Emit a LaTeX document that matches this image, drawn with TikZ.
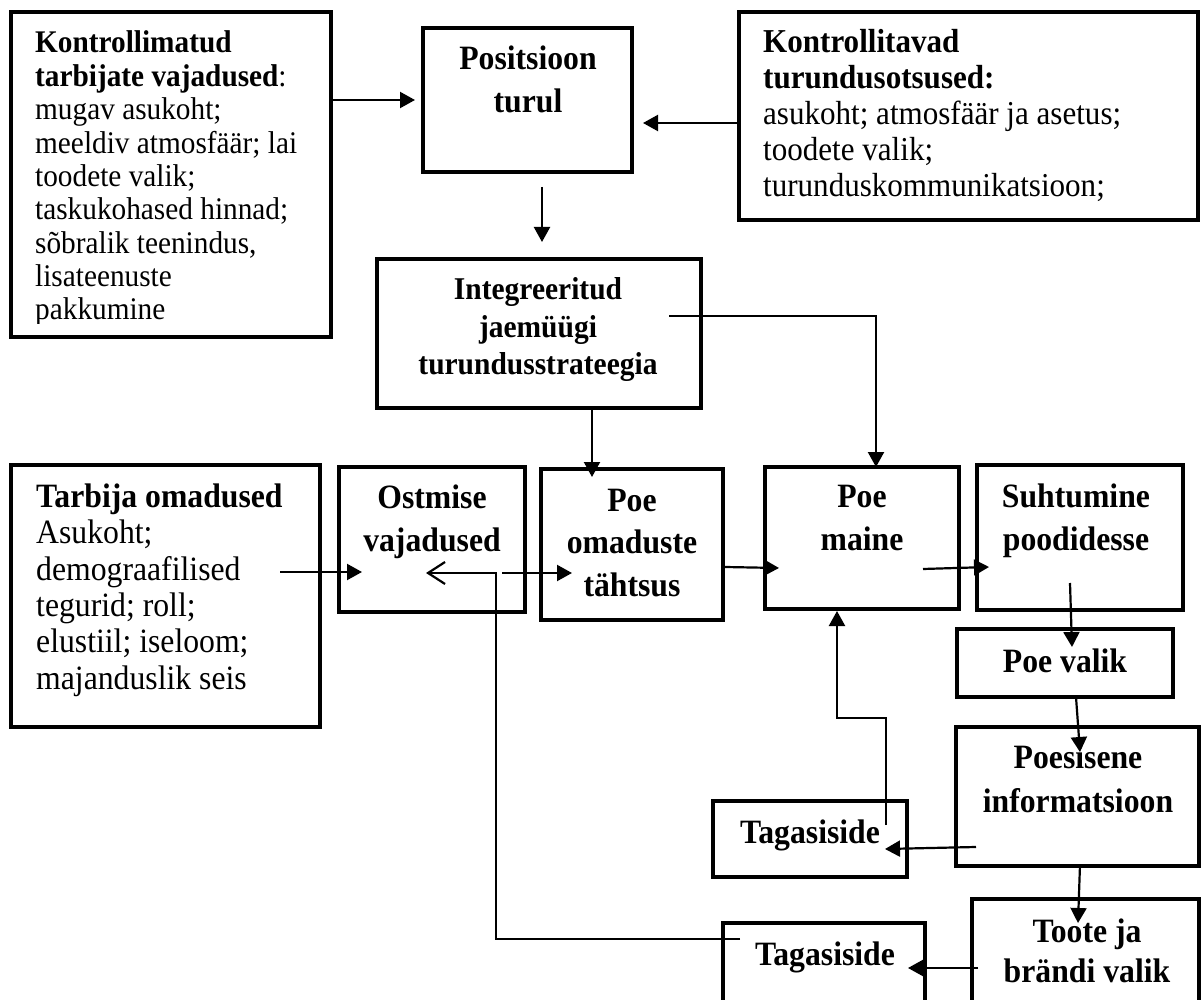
\documentclass[tikz,border=0pt]{standalone}
\usepackage{fontspec}
\setmainfont{Liberation Serif}[FakeStretch=0.93]
\usetikzlibrary{arrows.meta}
\begin{document}
\begin{tikzpicture}[x=1pt,y=-1pt,
  frame/.style={draw,line width=4.8pt,inner sep=0pt,outer sep=0pt},
  conn/.style={line width=2.2pt,-{Triangle[length=15pt,width=16pt]}},
  openconn/.style={line width=2.2pt,-{Straight Barb[length=17pt,width=22pt]}},
  ttl/.style={font=\bfseries\fontsize{34.1pt}{43pt}\selectfont,align=center,anchor=base,inner sep=0pt},
  lst/.style={align=left,anchor=base west,inner sep=0pt}]
\clip (0,0) rectangle (1203,1000);
\fill[white] (0,0) rectangle (1203,1000);
% frames
\node[frame,minimum width=320pt,minimum height=325pt] (K1) at (171,174.5) {};
\node[frame,minimum width=209pt,minimum height=144pt] (P) at (527.5,100) {};
\node[frame,minimum width=459pt,minimum height=208pt] (K2) at (968.5,116) {};
\node[frame,minimum width=324pt,minimum height=149pt] (I) at (539,333.5) {};
\node[frame,minimum width=309pt,minimum height=262pt] (T) at (165.5,596) {};
\node[frame,minimum width=186pt,minimum height=145pt] (O) at (432,539.5) {};
\node[frame,minimum width=182pt,minimum height=151pt] (PO) at (632,544.5) {};
\node[frame,minimum width=194pt,minimum height=142pt] (PM) at (862,538) {};
\node[frame,minimum width=206pt,minimum height=145pt] (S) at (1080,537.5) {};
\node[frame,minimum width=216pt,minimum height=68pt] (PV) at (1065,663) {};
\node[frame,minimum width=243pt,minimum height=139pt] (PI) at (1077.5,796.5) {};
\node[frame,minimum width=194pt,minimum height=76pt] (TG1) at (810,839) {};
\node[frame,minimum width=227pt,minimum height=131pt] (TB) at (1085.5,964.5) {};
\node[frame,minimum width=202pt,minimum height=107pt] (TG2) at (824,976.5) {};
% texts (anchor = baseline of the last line)
\begin{scope}
\clip (13,14) rectangle (329,324);
\node[lst,font=\fontsize{31.5pt}{33.4pt}\selectfont] (K1t) at (35,320)
 {\textbf{Kontrollimatud}\\\textbf{tarbijate vajadused}:\\mugav asukoht;\\meeldiv atmosfäär; lai\\toodete valik;\\taskukohased hinnad;\\sõbralik teenindus,\\lisateenuste\\pakkumine};
\end{scope}
\node[lst,font=\fontsize{33.4pt}{36pt}\selectfont] (K2t) at (763,197)
 {\textbf{Kontrollitavad}\\\textbf{turundusotsused:}\\asukoht; atmosfäär ja asetus;\\toodete valik;\\turunduskommunikatsioon;};
\node[lst,font=\fontsize{34.1pt}{36.3pt}\selectfont] (Tt) at (36,689)
 {\textbf{Tarbija omadused}\\Asukoht;\\demograafilised\\tegurid; roll;\\elustiil; iseloom;\\majanduslik seis};
\node[ttl] (Pt) at (528,113) {Positsioon\\turul};
\node[ttl,font=\bfseries\fontsize{31.7pt}{37.5pt}\selectfont] (It) at (538,375) {Integreeritud\\jaemüügi\\turundusstrateegia};
\node[ttl] (Ot) at (432,551) {Ostmise\\vajadused};
\node[ttl,font=\bfseries\fontsize{34.1pt}{42.5pt}\selectfont] (POt) at (632,596) {Poe\\omaduste\\tähtsus};
\node[ttl] (PMt) at (862,550) {Poe\\maine};
\node[ttl] (St) at (1076,550) {Suhtumine\\poodidesse};
\node[ttl] (PVt) at (1065,672) {Poe valik};
\node[ttl,font=\bfseries\fontsize{34.1pt}{44pt}\selectfont] (PIt) at (1078,812) {Poesisene\\informatsioon};
\node[ttl] (TG1t) at (810,843) {Tagasiside};
\node[ttl,font=\bfseries\fontsize{34.1pt}{40pt}\selectfont] (TBt) at (1087,982) {Toote ja\\brändi valik};
\node[ttl] (TG2t) at (825,965) {Tagasiside};
% connectors
\draw[conn] (K1.east |- 0,100) -- (415,100);
\draw[conn] (K2.west |- 0,123) -- (643,123);
\draw[conn] (542,187) -- (542,242);
\draw[conn] (669,316) -- (876,316) -- (876,467);
\draw[conn] (I.south -| 592,0) -- (592,477);
\draw[conn] (280,572) -- (362,572);
\draw[conn] (502,573) -- (572,573);
\draw[openconn] (740,939) -- (496,939) -- (496,573) -- (426,573);
\draw[conn] (725,567) -- (779,568);
\draw[conn] (923,569) -- (989,567);
\draw[conn] (1070,583) -- (1072,647);
\draw[conn] (1076,697) -- (1080,752);
\draw[conn] (976,847) -- (885,849);
\draw[conn] (886,825) -- (886,718) -- (837,718) -- (837,611);
\draw[conn] (1080,865) -- (1078,923);
\draw[conn] (978,968) -- (908,968);
\end{tikzpicture}
\end{document}
